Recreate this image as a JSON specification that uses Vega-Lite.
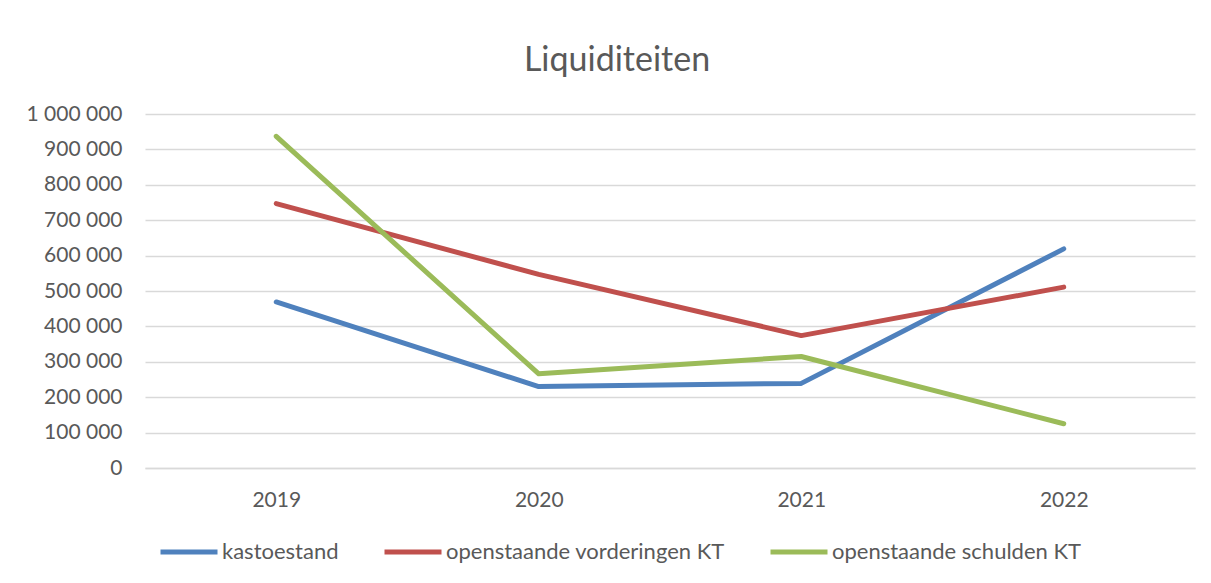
{
  "$schema": "https://vega.github.io/schema/vega-lite/v6.json",
  "width": 1050,
  "height": 354,
  "autosize": {"type": "none"},
  "padding": {"left": 145, "top": 114, "right": 16, "bottom": 115},
  "background": "white",
  "config": {
    "locale": {"number": {"decimal": ",", "thousands": " ", "grouping": [3], "currency": ["", ""]}},
    "view": {"stroke": null},
    "font": "Lato"
  },
  "title": {
    "text": "Liquiditeiten",
    "fontSize": 34,
    "fontWeight": "normal",
    "color": "#595959",
    "font": "Lato",
    "dx": -53,
    "offset": 25
  },
  "data": {
    "values": [
      {"jaar": "2019", "reeks": "kastoestand", "waarde": 469000},
      {"jaar": "2020", "reeks": "kastoestand", "waarde": 230000},
      {"jaar": "2021", "reeks": "kastoestand", "waarde": 239000},
      {"jaar": "2022", "reeks": "kastoestand", "waarde": 619000},
      {"jaar": "2019", "reeks": "openstaande vorderingen KT", "waarde": 747000},
      {"jaar": "2020", "reeks": "openstaande vorderingen KT", "waarde": 547000},
      {"jaar": "2021", "reeks": "openstaande vorderingen KT", "waarde": 374000},
      {"jaar": "2022", "reeks": "openstaande vorderingen KT", "waarde": 511000},
      {"jaar": "2019", "reeks": "openstaande schulden KT", "waarde": 937000},
      {"jaar": "2020", "reeks": "openstaande schulden KT", "waarde": 266000},
      {"jaar": "2021", "reeks": "openstaande schulden KT", "waarde": 315000},
      {"jaar": "2022", "reeks": "openstaande schulden KT", "waarde": 125000}
    ]
  },
  "mark": {"type": "line", "strokeWidth": 5, "strokeCap": "round", "strokeJoin": "round"},
  "encoding": {
    "x": {
      "field": "jaar",
      "type": "ordinal",
      "scale": {"type": "point", "padding": 0.5},
      "axis": {
        "title": null,
        "labelAngle": 0,
        "labelFontSize": 21,
        "labelColor": "#595959",
        "labelFont": "Lato",
        "labelPadding": 21,
        "ticks": false,
        "domainColor": "#d9d9d9",
        "domainWidth": 1.5,
        "grid": false
      }
    },
    "y": {
      "field": "waarde",
      "type": "quantitative",
      "scale": {"domain": [0, 1000000], "nice": false},
      "axis": {
        "title": null,
        "values": [0, 100000, 200000, 300000, 400000, 500000, 600000, 700000, 800000, 900000, 1000000],
        "format": ",d",
        "labelFontSize": 21,
        "labelColor": "#595959",
        "labelFont": "Lato",
        "labelPadding": 23,
        "ticks": false,
        "domain": false,
        "gridColor": "#d9d9d9",
        "gridWidth": 1.5
      }
    },
    "color": {
      "field": "reeks",
      "type": "nominal",
      "sort": ["kastoestand", "openstaande vorderingen KT", "openstaande schulden KT"],
      "scale": {
        "domain": ["kastoestand", "openstaande vorderingen KT", "openstaande schulden KT"],
        "range": ["#4F81BD", "#C0504D", "#9BBB59"]
      },
      "legend": {
        "title": null,
        "orient": "none",
        "direction": "horizontal",
        "legendX": 13,
        "legendY": 407,
        "symbolType": "stroke",
        "symbolSize": 3249,
        "symbolStrokeWidth": 5,
        "labelFontSize": 22,
        "labelColor": "#595959",
        "labelFont": "Lato",
        "labelOffset": 2,
        "columnPadding": 35,
        "labelLimit": 500
      }
    }
  }
}
